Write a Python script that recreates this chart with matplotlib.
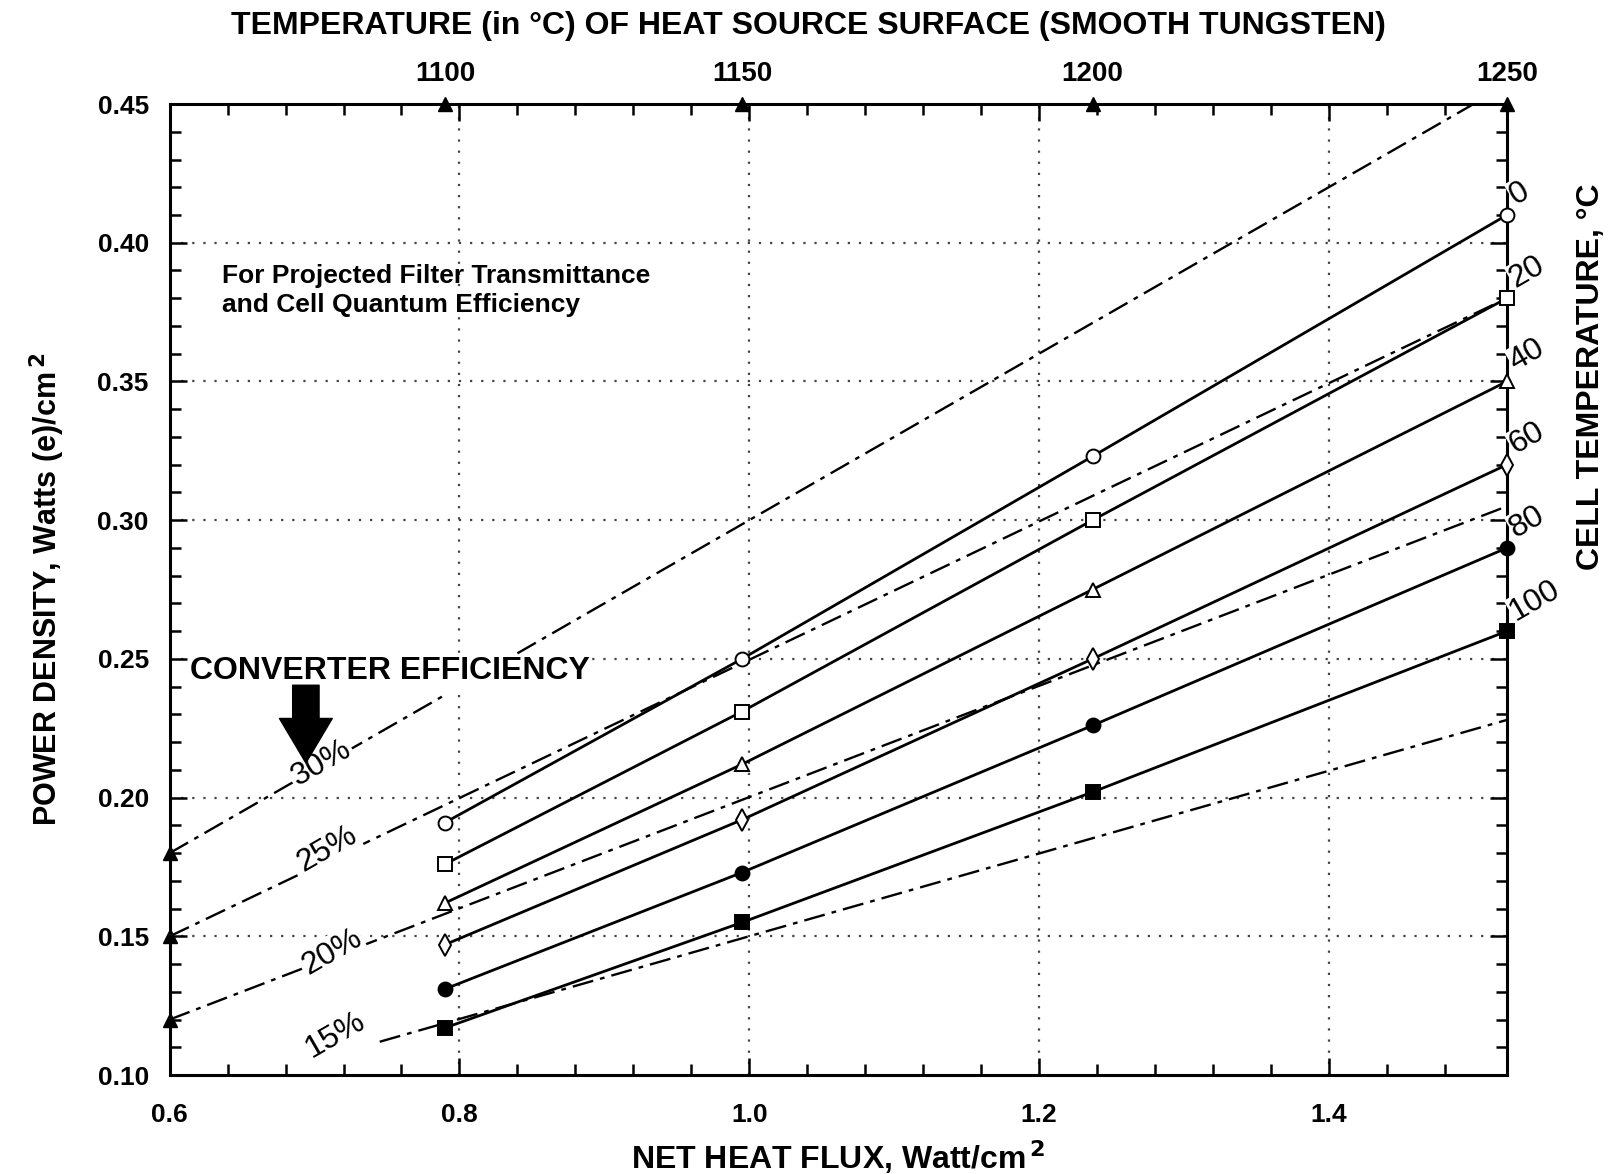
import numpy as np
import matplotlib
matplotlib.use("Agg")
import matplotlib.pyplot as plt
from matplotlib import transforms

plt.rcParams['font.family'] = ['Liberation Sans', 'DejaVu Sans']
plt.rcParams['font.weight'] = 'bold'

# ---------------- data ----------------
flux = [0.79, 0.995, 1.237, 1.523]            # net heat flux, W/cm2
source_temps = [1100, 1150, 1200, 1250]       # heat source temperature, C
cell_temps = [0, 20, 40, 60, 80, 100]         # cell temperature, C

p_0c = [0.191, 0.250, 0.323, 0.410]
p_20c = [0.176, 0.231, 0.300, 0.380]
p_40c = [0.162, 0.212, 0.275, 0.350]
p_60c = [0.147, 0.192, 0.250, 0.320]
p_80c = [0.131, 0.173, 0.226, 0.290]
p_100c = [0.117, 0.155, 0.202, 0.260]

# converter efficiency lines (start/end points)
eff_labels = ['30%', '25%', '20%', '15%']
eff30_x_low = [0.60, 0.79]
eff30_y_low = [0.18, 0.237]
eff30_x_high = [0.84, 1.50]
eff30_y_high = [0.252, 0.45]
eff25_x = [0.60, 1.523]
eff25_y = [0.15, 0.38]
eff20_x = [0.60, 1.523]
eff20_y = [0.12, 0.305]
eff15_x = [0.745, 1.523]
eff15_y = [0.112, 0.228]
eff_label_x = [0.705, 0.709, 0.712, 0.714]
eff_label_y = [0.2125, 0.1815, 0.1445, 0.1145]

x_ticks = [0.6, 0.8, 1.0, 1.2, 1.4]
y_ticks = [0.10, 0.15, 0.20, 0.25, 0.30, 0.35, 0.40, 0.45]

# ---------------- figure ----------------
fig = plt.figure(figsize=(16.16, 11.74), dpi=100)
ax = fig.add_axes([0.105, 0.0843, 0.8275, 0.8271])
ax.set_xlim(0.6, 1.523)
ax.set_ylim(0.10, 0.45)

series = [p_0c, p_20c, p_40c, p_60c, p_80c, p_100c]
markers = ['o', 's', '^', 'd', 'o', 's']
filled = [False, False, False, False, True, True]
for vals, m, f in zip(series, markers, filled):
    ax.plot(flux, vals, color='black', lw=2.0, marker=m, ms=10 if m != 'd' else 11,
            mfc='black' if f else 'white', mec='black', mew=1.4, zorder=4,
            clip_on=False)

dash = (0, (9, 3, 2, 3))
ekw = dict(color='black', lw=1.7, linestyle=dash, zorder=3)
ax.plot(eff30_x_low, eff30_y_low, **ekw)
ax.plot(eff30_x_high, eff30_y_high, **ekw)
ax.plot(eff25_x, eff25_y, **ekw)
ax.plot(eff20_x, eff20_y, **ekw)
ax.plot(eff15_x, eff15_y, **ekw)
# triangles at the left axis
for xs, ys in [(eff30_x_low, eff30_y_low), (eff25_x, eff25_y), (eff20_x, eff20_y)]:
    ax.plot(xs[:1], ys[:1], marker='^', ms=10, color='black', clip_on=False, zorder=6)

for lab, lx, ly in zip(eff_labels, eff_label_x, eff_label_y):
    ax.text(lx, ly, lab, fontsize=23, fontweight='normal', ha='center', va='center',
            rotation=30, zorder=5,
            bbox=dict(facecolor='white', edgecolor='none', pad=1.0))

# grid
for gx in x_ticks[1:]:
    ax.axvline(gx, color='#444444', lw=1.6, linestyle=(0, (1, 4)), zorder=1)
for gy in y_ticks[1:-1]:
    ax.axhline(gy, color='#444444', lw=1.6, linestyle=(0, (1, 4)), zorder=1)

# axes styling
for s in ax.spines.values():
    s.set_linewidth(2.2)
ax.set_xticks(x_ticks)
ax.set_xticklabels(['0.6', '0.8', '1.0', '1.2', '1.4'])
ax.set_xticks(np.arange(0.6, 1.52, 0.04), minor=True)
ax.set_yticks(y_ticks)
ax.set_yticklabels([f'{v:.2f}' for v in y_ticks])
ax.set_yticks(np.arange(0.10, 0.451, 0.01), minor=True)
ax.tick_params(which='both', direction='in', top=True, right=True, width=1.8)
ax.tick_params(which='major', length=12, labelsize=19)
ax.tick_params(which='minor', length=8)
ax.tick_params(axis='y', which='major', pad=15)
ax.tick_params(axis='x', which='major', pad=20)

ax.set_xlabel('NET HEAT FLUX, Watt/cm$^{\\,2}$', fontsize=23, fontweight='bold', labelpad=8)
ax.set_ylabel('POWER DENSITY, Watts (e)/cm$^{\\,2}$', fontsize=22, fontweight='bold', labelpad=22)

# top axis: source temperature
sec = ax.secondary_xaxis('top')
sec.set_xticks(flux)
sec.set_xticklabels([str(t) for t in source_temps])
sec.tick_params(length=0, labelsize=20, pad=12)
sec.spines['top'].set_visible(False)
top_tr = transforms.blended_transform_factory(ax.transData, ax.transAxes)
ax.plot(flux, [1] * len(flux), '^', ms=10, color='black', transform=top_tr,
        clip_on=False, zorder=7)
fig.text(0.5, 0.978, 'TEMPERATURE (in °C) OF HEAT SOURCE SURFACE (SMOOTH TUNGSTEN)',
         ha='center', va='center', fontsize=23, fontweight='bold')

# right labels: cell temperature
for ct, vals in zip(cell_temps, series):
    ax.annotate(str(ct), xy=(flux[-1], vals[-1]), xytext=(-2, 3), textcoords='offset points',
                fontsize=23, fontweight='normal', rotation=30, ha='left', va='bottom',
                zorder=8, annotation_clip=False,
                bbox=dict(facecolor='white', edgecolor='none', pad=0.3))
fig.text(0.9845, 0.679, 'CELL TEMPERATURE, °C', rotation=90, ha='center', va='center',
         fontsize=23, fontweight='bold')

# annotations
ax.text(0.636, 0.3925, 'For Projected Filter Transmittance\nand Cell Quantum Efficiency',
        fontsize=19, fontweight='bold', ha='left', va='top', linespacing=1.3)
ax.text(0.614, 0.2455, 'CONVERTER EFFICIENCY', fontsize=23, fontweight='bold',
        ha='left', va='center', zorder=6,
        bbox=dict(facecolor='white', edgecolor='none', pad=1))
ax.annotate('', xy=(0.694, 0.2125), xytext=(0.694, 0.2405),
            arrowprops=dict(arrowstyle='simple,head_length=1.6,head_width=1.9,tail_width=0.95',
                            fc='black', ec='black', mutation_scale=20,
                            shrinkA=0, shrinkB=0), zorder=6)

fig.savefig('out.png', dpi=100)
